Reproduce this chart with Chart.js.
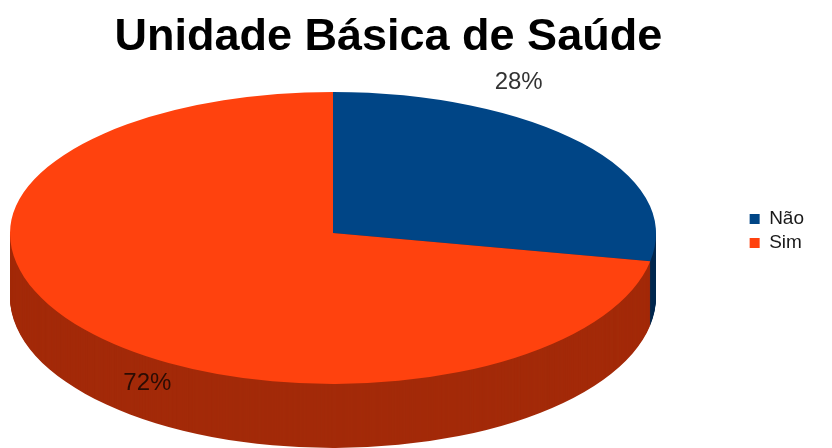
<!DOCTYPE html>
<html>
<head>
<meta charset="utf-8">
<title>Unidade Básica de Saúde</title>
<script src="https://cdn.jsdelivr.net/npm/chart.js@4.4.1/dist/chart.umd.min.js"></script>
<style>
  html, body { margin: 0; padding: 0; background: #fff; }
</style>
</head>
<body>
<canvas id="ubsChart" width="832" height="448"></canvas>
<script>
const categories = ["Não", "Sim"];
const percents = [28, 72];
const topColors = ["#004586", "#ff420e"];
const sideColors = ["#00284f", "#a32a09"];
const labelColors = ["#333333", "#2a0c04"];

// screen shape of the tilted disc: back half is flatter than the front half
const disc = { cx: 333, cy: 233, rx: 323, ryBack: 141, ryFront: 151, depth: 64 };
const labelRadius = { x: 241, y: 236 };

function project(ctx, arc, ry, dy) {
    const r = arc.outerRadius;
    ctx.translate(disc.cx, disc.cy + dy);
    ctx.scale(disc.rx / r, ry / r);
    ctx.translate(-arc.x, -arc.y);
}

function clipHalf(ctx, chart, lower) {
    ctx.beginPath();
    if (lower) ctx.rect(0, disc.cy, chart.width, chart.height - disc.cy);
    else ctx.rect(0, 0, chart.width, disc.cy);
    ctx.clip();
}

const tiltedPie = {
    id: "tiltedPie",
    beforeDatasetsDraw(chart) {
        const ctx = chart.ctx;
        const arcs = chart.getDatasetMeta(0).data;

        // side wall, stacked from the bottom up
        for (let d = disc.depth; d > 0; d--) {
            arcs.forEach((arc, i) => {
                const p = arc.getProps(["x", "y", "startAngle", "endAngle", "outerRadius"]);
                ctx.save();
                clipHalf(ctx, chart, true);
                project(ctx, p, disc.ryFront, d);
                ctx.fillStyle = sideColors[i];
                ctx.beginPath();
                ctx.moveTo(p.x, p.y);
                ctx.arc(p.x, p.y, p.outerRadius, p.startAngle, p.endAngle);
                ctx.closePath();
                ctx.fill();
                ctx.restore();
            });
        }

        // top face, back and front halves
        [false, true].forEach(lower => {
            ctx.save();
            clipHalf(ctx, chart, lower);
            project(ctx, arcs[0], lower ? disc.ryFront : disc.ryBack, 0);
            arcs.forEach(arc => arc.draw(ctx));
            ctx.restore();
        });
        return false;
    },
    afterDraw(chart) {
        const ctx = chart.ctx;
        const arcs = chart.getDatasetMeta(0).data;
        const total = percents.reduce((a, b) => a + b, 0);
        ctx.save();
        ctx.font = '24px "Liberation Sans"';
        ctx.textAlign = "center";
        ctx.textBaseline = "middle";
        arcs.forEach((arc, i) => {
            const mid = (arc.startAngle + arc.endAngle) / 2;
            const x = disc.cx + labelRadius.x * Math.cos(mid);
            const y = disc.cy + labelRadius.y * Math.sin(mid);
            ctx.fillStyle = labelColors[i];
            ctx.fillText(Math.round(percents[i] / total * 100) + "%", x, y);
        });
        ctx.restore();
    }
};

new Chart(document.getElementById("ubsChart"), {
    type: "pie",
    data: {
        labels: categories,
        datasets: [{
            data: percents,
            backgroundColor: topColors,
            borderWidth: 0
        }]
    },
    options: {
        responsive: false,
        animation: false,
        events: [],
        layout: { padding: { left: 32, right: 18, top: 14, bottom: 0 } },
        plugins: {
            title: {
                display: true,
                text: "Unidade Básica de Saúde",
                fullSize: false,
                color: "#000",
                font: { family: "Liberation Sans", size: 45, weight: "bold", lineHeight: 1.05 },
                padding: { top: 0, bottom: 30 }
            },
            legend: {
                position: "right",
                labels: {
                    boxWidth: 10,
                    boxHeight: 10,
                    padding: 5,
                    color: "#1a1a1a",
                    font: { family: "Liberation Sans", size: 19 }
                }
            },
            tooltip: { enabled: false }
        }
    },
    plugins: [tiltedPie]
});
</script>
</body>
</html>
